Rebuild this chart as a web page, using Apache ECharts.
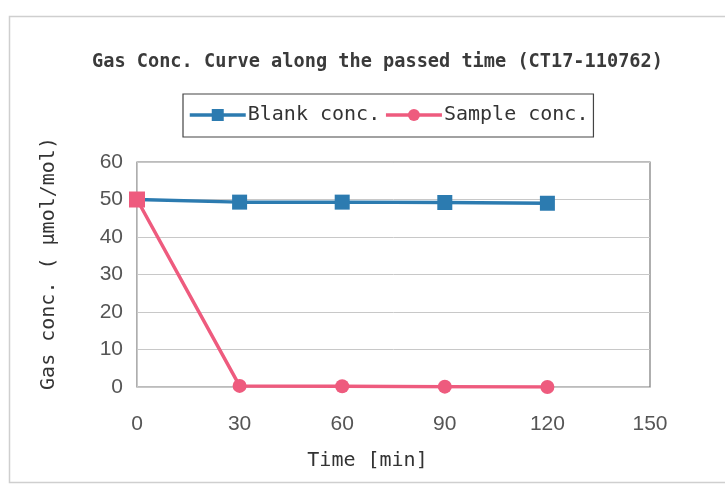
<!DOCTYPE html>
<html>
<head>
<meta charset="utf-8">
<script src="https://cdn.jsdelivr.net/npm/echarts@6/dist/echarts.min.js"></script>
<style>html,body{margin:0;padding:0;background:#fff}#c{width:725px;height:485px}</style>
</head>
<body>
<div id="c"></div>
<script>
var times = [0, 30, 60, 90, 120];
var blankConc = [50, 49.3, 49.3, 49.2, 49.0];
var sampleConc = [50, 0.3, 0.2, 0.1, 0.0];
var titleText = 'Gas Conc. Curve along the passed time (CT17-110762)';
var seriesNames = ['Blank conc.', 'Sample conc.'];
var xName = 'Time [min]';
var yName = 'Gas conc. ( \u03bcmol/mol)';

var blueC = '#2C7BB0', pinkC = '#EE5B7E';
var mono = '"DejaVu Sans Mono", monospace';
var sans = '"Liberation Sans", Arial, sans-serif';

var blankData = times.map(function (t, i) { return [t, blankConc[i]]; });
var sampleData = times.map(function (t, i) {
  return i === 0 ? { value: [t, sampleConc[i]], symbol: 'rect', symbolSize: 16 } : [t, sampleConc[i]];
});

var chart = echarts.init(document.getElementById('c'), null, { renderer: 'canvas' });
chart.setOption({
  animation: false,
  backgroundColor: '#fff',
  graphic: [{
    type: 'rect', left: 7, top: 14, shape: { width: 730, height: 466 },
    style: { fill: 'none', stroke: '#cfcfcf', lineWidth: 1.5 }, silent: true, z: -1
  }],
  title: {
    text: titleText, left: 87, top: 48,
    textStyle: { fontFamily: mono, fontSize: 18.6, fontWeight: 'bold', color: '#3a3a3a' }
  },
  legend: {
    left: 183, top: 94, width: 420,
    padding: [11, 5, 12, 5], itemGap: 4, itemWidth: 56, itemHeight: 15,
    borderColor: '#444', borderWidth: 1.2, borderRadius: 0,
    lineStyle: { width: 3.5 },
    textStyle: { fontFamily: mono, fontSize: 20, color: '#333', padding: [0, 0, 0, -3] },
    data: seriesNames
  },
  grid: {
    left: 137, right: 725 - 650, top: 162, bottom: 485 - 387,
    show: true, borderColor: '#7a7a7a', borderWidth: 1.2
  },
  xAxis: {
    type: 'value', min: 0, max: 150, interval: 30,
    name: xName, nameLocation: 'middle', nameGap: 64,
    nameTextStyle: { fontFamily: mono, fontSize: 20, color: '#333', padding: [0, 52, 0, 0] },
    axisLine: { lineStyle: { color: '#c8c8c8' } },
    axisTick: { show: false },
    splitLine: { show: false },
    axisLabel: { fontFamily: sans, fontSize: 21, color: '#555', margin: 27 }
  },
  yAxis: {
    type: 'value', min: 0, max: 60, interval: 10,
    name: yName, nameLocation: 'middle', nameGap: 78,
    nameTextStyle: { fontFamily: mono, fontSize: 20, color: '#333', padding: [0, 0, 0, 22] },
    axisLine: { show: true, lineStyle: { color: '#c8c8c8' } },
    axisTick: { show: false },
    splitLine: { lineStyle: { color: '#c8c8c8' } },
    axisLabel: { fontFamily: sans, fontSize: 21, color: '#555', margin: 14 }
  },
  series: [
    {
      name: seriesNames[0], type: 'line', data: blankData,
      symbol: 'rect', symbolSize: 15,
      lineStyle: { color: blueC, width: 3.5 },
      itemStyle: { color: blueC }, z: 2
    },
    {
      name: seriesNames[1], type: 'line', data: sampleData,
      symbol: 'circle', symbolSize: 14,
      lineStyle: { color: pinkC, width: 3.5 },
      itemStyle: { color: pinkC }, z: 3
    }
  ]
});
</script>
</body>
</html>
